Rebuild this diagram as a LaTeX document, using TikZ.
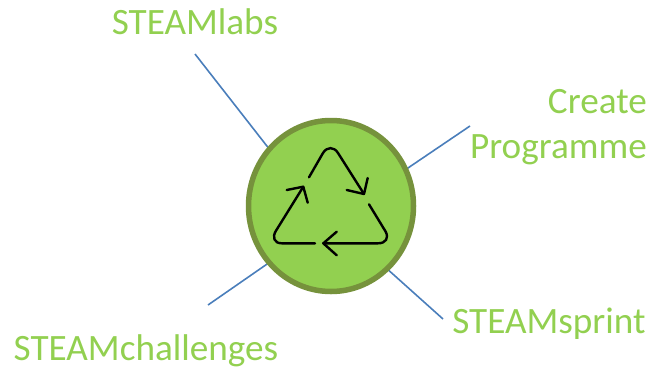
\documentclass[tikz,border=0pt]{standalone}
\usetikzlibrary{shapes.geometric}
\usepackage{fontspec}
\setmainfont{Carlito}
\definecolor{lbl}{HTML}{92D050}
\definecolor{ringc}{HTML}{76923C}
\definecolor{linec}{HTML}{4A7EBB}
\tikzset{lab/.style={text=lbl,font=\fontsize{37.2pt}{45pt}\selectfont,inner sep=0pt},
conn/.style={draw=linec,line width=1.6pt},
arrowline/.style={draw=black,line width=2.4pt,line cap=round,line join=round}}
\begin{document}
\begin{tikzpicture}[x=1pt,y=-1pt]
\useasboundingbox (0,0) rectangle (661,370);
\coordinate (a) at (195,54); \coordinate (b) at (470,126); \coordinate (c) at (443,319); \coordinate (d) at (208,305);
\coordinate (ha) at (270,150); \coordinate (hb) at (405,170); \coordinate (hc) at (385,267); \coordinate (hd) at (270,262);
\draw[conn] (a)--(ha); \draw[conn] (b)--(hb); \draw[conn] (c)--(hc); \draw[conn] (d)--(hd);
\node[ellipse,fill=lbl,draw=ringc,line width=5.5pt,minimum width=165pt,minimum height=171pt,inner sep=0pt,outer sep=0pt] (hub) at (331,206) {};
\node[lab] (t1) at (195,22) {STEAMlabs};
\node[lab,align=right,anchor=east] (t2) at (647,127) {Create\\Programme};
\node[lab] (t3) at (549,324) {STEAMsprint};
\node[lab] (t4) at (146,351) {STEAMchallenges};
\draw[arrowline] (309,177.3) -- (323,153) .. controls (327,146.5) and (334,146.5) .. (338,153) -- (364,194);
\draw[arrowline] (346.7,190)--(364,194)--(367.7,178);
\draw[arrowline] (369,204.3) -- (385.7,231.7) .. controls (389,238) and (386,243.3) .. (378,243.3) -- (323.3,243.3);
\draw[arrowline] (336.7,231.7)--(323.3,243.3)--(336.7,255.3);
\draw[arrowline] (315,243.3) -- (281.7,243.3) .. controls (274,243.3) and (272,237) .. (276,230.7) -- (303.3,186.7);
\draw[arrowline] (286.7,190)--(303.3,186.7)--(307.7,202.7);
\end{tikzpicture}
\end{document}
